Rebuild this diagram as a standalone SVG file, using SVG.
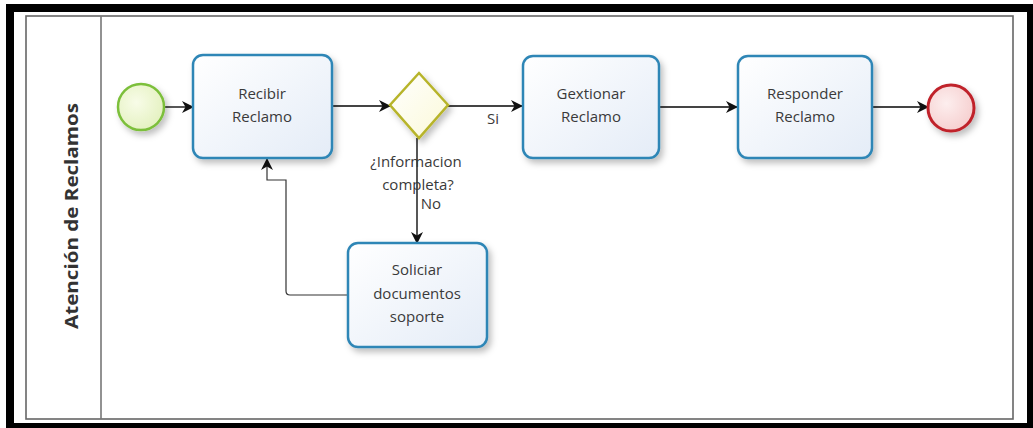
<svg xmlns="http://www.w3.org/2000/svg" width="1033" height="428" viewBox="0 0 1033 428">
  <defs>
    <linearGradient id="taskFill" x1="0" y1="0" x2="1" y2="1">
      <stop offset="0" stop-color="#ffffff"/>
      <stop offset="1" stop-color="#e4ecf7"/>
    </linearGradient>
    <radialGradient id="startFill" cx="0.4" cy="0.4" r="0.7">
      <stop offset="0" stop-color="#f8fce8"/>
      <stop offset="1" stop-color="#e2f0bc"/>
    </radialGradient>
    <radialGradient id="endFill" cx="0.4" cy="0.4" r="0.7">
      <stop offset="0" stop-color="#fdeeee"/>
      <stop offset="1" stop-color="#f5cccc"/>
    </radialGradient>
    <linearGradient id="gwFill" x1="0" y1="0" x2="1" y2="1">
      <stop offset="0" stop-color="#ffffff"/>
      <stop offset="1" stop-color="#fbf9d8"/>
    </linearGradient>
    <filter id="shadow" x="-20%" y="-20%" width="150%" height="150%">
      <feDropShadow dx="3" dy="4" stdDeviation="3" flood-color="#000" flood-opacity="0.25"/>
    </filter>
    <marker id="arrow" viewBox="0 0 12 12" refX="11" refY="6" markerWidth="12" markerHeight="12" markerUnits="userSpaceOnUse" orient="auto">
      <path d="M0,0 L12,6 L0,12 L3.5,6 Z" fill="#111"/>
    </marker>
  </defs>
  <style>
    .task { fill: url(#taskFill); stroke: #2f86b6; stroke-width: 2.5; filter: url(#shadow); }
    .label { font-family: "Open Sans", "Noto Sans", sans-serif; font-size: 15px; fill: #3a3a3a; text-anchor: middle; }
    .flow { fill: none; stroke: #444; stroke-width: 1.8; marker-end: url(#arrow); }
    .thin { stroke-width: 1.2; stroke: #333; }
  </style>

  <!-- page frame -->
  <rect x="0" y="0" width="1033" height="428" fill="#ffffff"/>
  <rect x="6" y="4" width="1027" height="424" fill="#000"/>
  <rect x="14" y="12" width="1013" height="411" fill="#ffffff"/>

  <!-- pool with single lane -->
  <g id="lane">
    <rect x="26" y="16" width="987" height="403" fill="#fff" stroke="#666" stroke-width="1.6"/>
    <line x1="101" y1="16" x2="101" y2="419" stroke="#777" stroke-width="1.6"/>
    <text transform="translate(78,216) rotate(-90)" text-anchor="middle" font-family="'Open Sans', 'Noto Sans', sans-serif" font-size="17" font-weight="bold" fill="#333" textLength="226" lengthAdjust="spacingAndGlyphs">Atención de Reclamos</text>
  </g>

  <!-- sequence flows -->
  <g id="connectors">
    <line class="flow" x1="165" y1="107" x2="193" y2="107"/>
    <line class="flow" x1="332" y1="106" x2="390" y2="106"/>
    <line class="flow" x1="448" y1="106" x2="522" y2="106"/>
    <line class="flow" x1="660" y1="107" x2="737" y2="107"/>
    <line class="flow" x1="872" y1="107" x2="928" y2="107"/>
    <line class="flow" x1="417" y1="138" x2="417" y2="243"/>
    <path class="flow thin" d="M348,295 H290 Q286,295 286,291 V180 H267 V159"/>
    <text class="label" x="493" y="124" font-size="14">Si</text>
    <text class="label" x="416" y="167">¿Informacion</text>
    <text class="label" x="418" y="190">completa?</text>
    <text class="label" x="431" y="209">No</text>
  </g>

  <g id="start">
    <circle cx="141" cy="107" r="23" fill="url(#startFill)" stroke="#7cbf3a" stroke-width="2.5" filter="url(#shadow)"/>
  </g>

  <g id="recibir">
    <rect class="task" x="193" y="55" width="139" height="103" rx="10"/>
    <text class="label" x="262" y="99">Recibir</text>
    <text class="label" x="262" y="122">Reclamo</text>
  </g>

  <g id="gateway">
    <polygon points="419,73 448,105 419,138 390,105" fill="url(#gwFill)" stroke="#b7b42a" stroke-width="2.5" filter="url(#shadow)"/>
  </g>

  <g id="gestionar">
    <rect class="task" x="523" y="56" width="136" height="102" rx="10"/>
    <text class="label" x="591" y="99">Gextionar</text>
    <text class="label" x="591" y="122">Reclamo</text>
  </g>

  <g id="responder">
    <rect class="task" x="738" y="56" width="134" height="102" rx="10"/>
    <text class="label" x="805" y="99">Responder</text>
    <text class="label" x="805" y="122">Reclamo</text>
  </g>

  <g id="end">
    <circle cx="951" cy="108" r="23" fill="url(#endFill)" stroke="#c0242c" stroke-width="3" filter="url(#shadow)"/>
  </g>

  <g id="solicitar">
    <rect class="task" x="348" y="243" width="139" height="104" rx="10"/>
    <text class="label" x="417" y="275">Soliciar</text>
    <text class="label" x="417" y="299">documentos</text>
    <text class="label" x="417" y="322">soporte</text>
  </g>
</svg>
